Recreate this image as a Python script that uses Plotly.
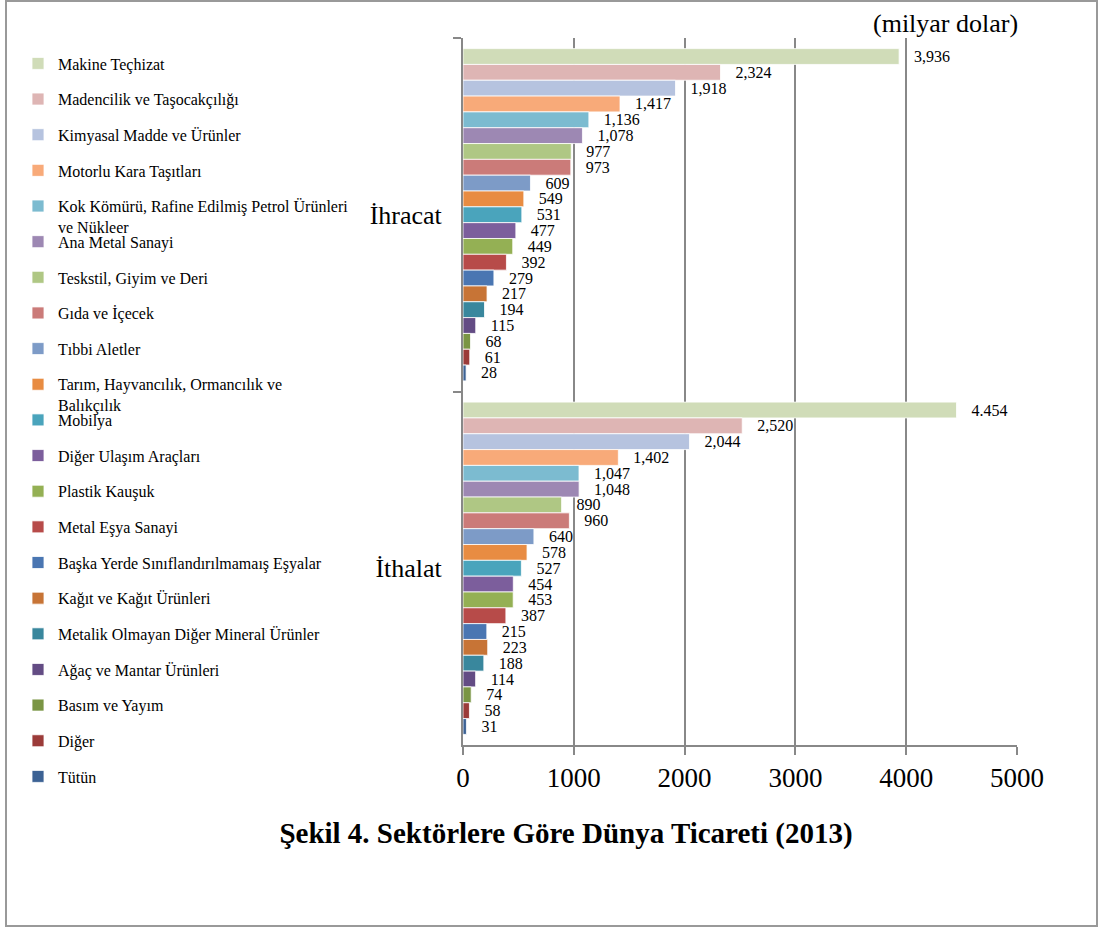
import plotly.graph_objects as go

FONT = "Liberation Serif, Times New Roman, serif"

categories = ["İhracat", "İthalat"]

sectors = [
    "Makine Teçhizat",
    "Madencilik ve Taşocakçılığı",
    "Kimyasal Madde ve Ürünler",
    "Motorlu Kara Taşıtları",
    "Kok Kömürü, Rafine Edilmiş Petrol Ürünleri<br>ve Nükleer",
    "Ana Metal Sanayi",
    "Teskstil, Giyim ve Deri",
    "Gıda ve İçecek",
    "Tıbbi Aletler",
    "Tarım, Hayvancılık, Ormancılık ve<br>Balıkçılık",
    "Mobilya",
    "Diğer Ulaşım Araçları",
    "Plastik Kauşuk",
    "Metal Eşya Sanayi",
    "Başka Yerde Sınıflandırılmamaış Eşyalar",
    "Kağıt ve Kağıt Ürünleri",
    "Metalik Olmayan Diğer Mineral Ürünler",
    "Ağaç ve Mantar Ürünleri",
    "Basım ve Yayım",
    "Diğer",
    "Tütün",
]

ihracat = [3936, 2324, 1918, 1417, 1136, 1078, 977, 973, 609, 549, 531,
           477, 449, 392, 279, 217, 194, 115, 68, 61, 28]
ithalat = [4454, 2520, 2044, 1402, 1047, 1048, 890, 960, 640, 578, 527,
           454, 453, 387, 215, 223, 188, 114, 74, 58, 31]

# label strings as printed in the source (first import label uses a period)
ihracat_labels = ["3,936", "2,324", "1,918", "1,417", "1,136", "1,078", "977", "973",
                  "609", "549", "531", "477", "449", "392", "279", "217", "194",
                  "115", "68", "61", "28"]
ithalat_labels = ["4.454", "2,520", "2,044", "1,402", "1,047", "1,048", "890", "960",
                  "640", "578", "527", "454", "453", "387", "215", "223", "188",
                  "114", "74", "58", "31"]

colors = ["#D0DCB8", "#DEB5B4", "#B6C3DF", "#F8AA79", "#7CBBD0", "#9D88B3",
          "#AFC784", "#CB7B79", "#7D9BC7", "#E88C42", "#4AA4BC", "#7C5E9C",
          "#94B054", "#B74B49", "#4A76B2", "#C77436", "#39879D", "#634C84",
          "#7A9544", "#9B3B39", "#3C6294"]

W, H = 1103, 929
PL, PR, PT, PB = 463, 1017, 38, 745

fig = go.Figure()
pad = "\u00a0\u00a0\u00a0"
for i, name in enumerate(sectors):
    lg = "legend" if i == 0 else f"legend{i+1}"
    fig.add_trace(go.Bar(
        orientation="h",
        y=categories,
        x=[ihracat[i], ithalat[i]],
        name=name,
        marker=dict(color=colors[i], line=dict(color="white", width=0.8)),
        text=[pad + ihracat_labels[i], pad + ithalat_labels[i]],
        textposition="outside",
        constraintext="none",
        cliponaxis=False,
        textfont=dict(family=FONT, size=16, color="black"),
        legend=lg,
        showlegend=True,
    ))

layout_legends = {}
for i in range(len(sectors)):
    key = "legend" if i == 0 else f"legend{i+1}"
    cy = 64.5 + 35.65 * i
    layout_legends[key] = dict(
        xref="container", yref="container",
        x=18 / W, y=1 - (cy - 18) / H,
        xanchor="left", yanchor="top",
        bgcolor="rgba(0,0,0,0)",
        font=dict(family=FONT, size=16, color="black"),
        valign="top",
        itemclick=False, itemdoubleclick=False,
    )

fig.update_layout(
    width=W, height=H,
    margin=dict(l=PL, r=W - PR, t=PT, b=H - PB),
    paper_bgcolor="white", plot_bgcolor="white",
    barmode="group", bargap=0.06, bargroupgap=0,
    font=dict(family=FONT, color="black"),
    title=dict(
        text="<b>Şekil 4. Sektörlere Göre Dünya Ticareti (2013)</b>",
        font=dict(family=FONT, size=29, color="black"),
        xref="container", yref="container",
        x=566 / W, y=1 - 833 / H, xanchor="center", yanchor="middle",
    ),
    xaxis=dict(
        range=[0, 5000], dtick=1000, tick0=0,
        showgrid=True, gridcolor="#888888", gridwidth=2,
        showline=True, linecolor="#888888", linewidth=2,
        ticks="outside", ticklen=8, tickwidth=2, tickcolor="#888888",
        tickfont=dict(family=FONT, size=27, color="black"),
        zeroline=False,
    ),
    yaxis=dict(
        categoryorder="array", categoryarray=categories,
        autorange="reversed",
        showline=True, linecolor="#888888", linewidth=2,
        ticks="outside", tickson="boundaries", ticklen=8, tickwidth=2,
        tickcolor="#888888",
        tickfont=dict(family=FONT, size=26, color="black"),
        ticklabelstandoff=14,
        showgrid=False,
    ),
    annotations=[dict(
        text="(milyar dolar)", xref="paper", yref="paper",
        x=(1020 - PL) / (PR - PL), y=(PB - 24) / (PB - PT),
        xanchor="right", yanchor="middle", showarrow=False,
        font=dict(family=FONT, size=26, color="black"),
    )],
    shapes=[dict(
        type="rect", xref="paper", yref="paper",
        x0=(6 - PL) / (PR - PL), x1=(1097 - PL) / (PR - PL),
        y0=(PB - 926) / (PB - PT), y1=(PB - 1) / (PB - PT),
        line=dict(color="#999999", width=2), fillcolor="rgba(0,0,0,0)",
    )],
    **layout_legends,
)

fig.write_html("out.html")
